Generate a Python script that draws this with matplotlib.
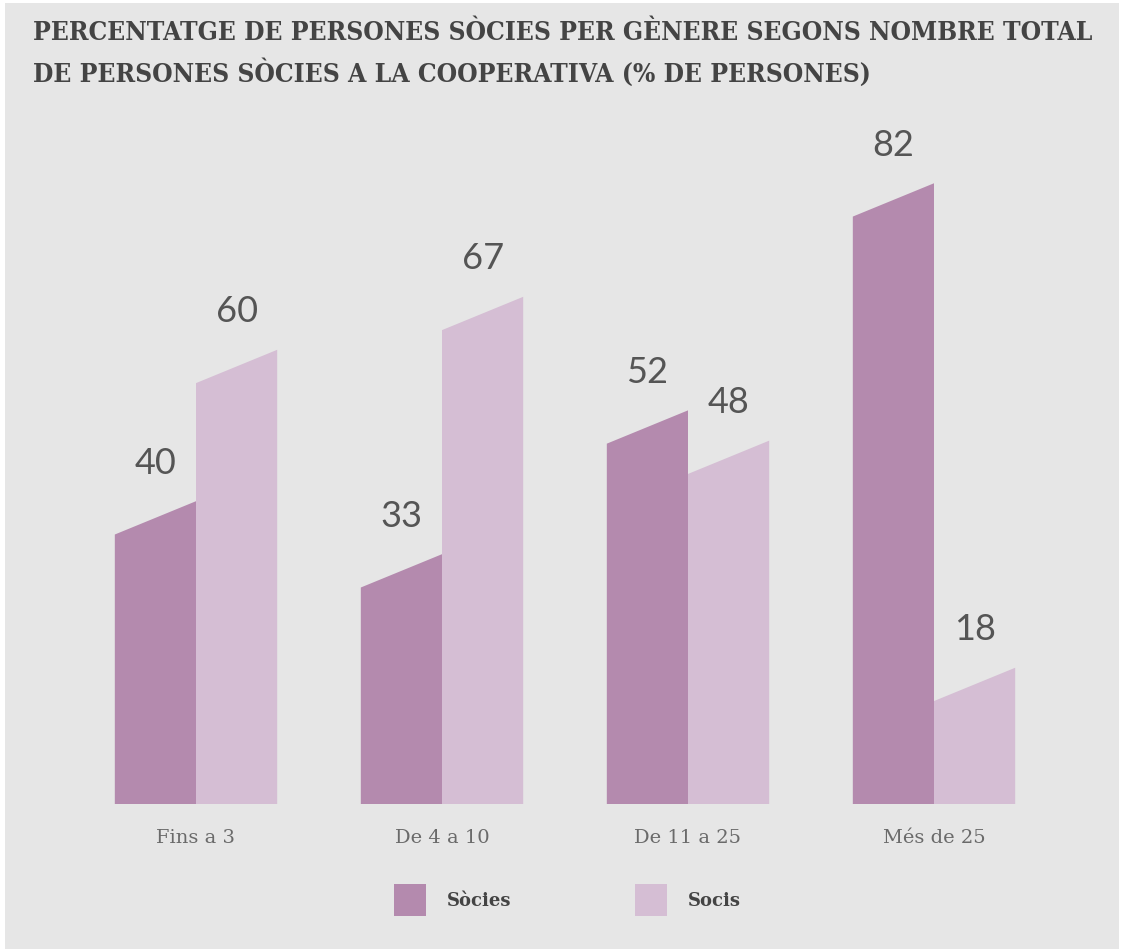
import matplotlib
matplotlib.use("Agg")
import matplotlib.pyplot as plt
from matplotlib.patches import Polygon, Rectangle

# data
categories = ["Fins a 3", "De 4 a 10", "De 11 a 25", "Més de 25"]
socies = [40, 33, 52, 82]
socis = [60, 67, 48, 18]
series_names = ["Sòcies", "Socis"]

TITLE_LINES = ["PERCENTATGE DE PERSONES SÒCIES PER GÈNERE SEGONS NOMBRE TOTAL",
               "DE PERSONES SÒCIES A LA COOPERATIVA (% DE PERSONES)"]

DARK = "#b48aae"
LIGHT = "#d5bed4"
BG = "#e6e6e6"
W, H = 1121, 949

fig = plt.figure(figsize=(W / 100, H / 100), dpi=100, facecolor="white")

# gray panel behind everything
fig.patches.append(Rectangle((5 / W, 0), (1119 - 5) / W, (H - 3) / H,
                             transform=fig.transFigure, facecolor=BG,
                             edgecolor="none", zorder=-5))

for k, line in enumerate(TITLE_LINES):
    fig.text(33 / W, 1 - (33 + 40 * k) / H, line, ha="left", va="center",
             fontsize=18.9, fontweight="bold", family="DejaVu Serif",
             fontstretch="condensed", color="#444444")

# axes: baseline at y=804px, 7.57 px per unit; group centres 246 px apart
px_unit = 7.57
ax_left, ax_right, ax_top, ax_base = 60, 1080, 120, 804
ax = fig.add_axes([ax_left / W, (H - ax_base) / H,
                   (ax_right - ax_left) / W, (ax_base - ax_top) / H])
ax.set_xlim((ax_left - 196) / 246, (ax_right - 196) / 246)
ax.set_ylim(0, (ax_base - ax_top) / px_unit)
ax.set_facecolor("none")
ax.set_zorder(2)
for s in ax.spines.values():
    s.set_visible(False)
ax.set_xticks([])
ax.set_yticks([])

bw = 0.33
slant = 4.4
for i, (a, b) in enumerate(zip(socies, socis)):
    for x0, v, col in [(i - bw, a, DARK), (i, b, LIGHT)]:
        ax.add_patch(Polygon([(x0, 0), (x0 + bw, 0), (x0 + bw, v),
                              (x0, v - slant)], closed=True,
                             facecolor=col, edgecolor="none"))
        ax.text(x0 + bw / 2, v + 5, str(v), ha="center", va="center",
                fontsize=26, family="Lato", fontweight="normal",
                color="#555555", clip_on=False)
    ax.text(i, -4.5, categories[i], ha="center", va="center", fontsize=14,
            family="DejaVu Serif", color="#6a6a6a", clip_on=False)

# legend
for x_sq, name, col in [(394, series_names[0], DARK), (635, series_names[1], LIGHT)]:
    fig.patches.append(Rectangle((x_sq / W, 1 - 916 / H), 32 / W, 32 / H,
                                 transform=fig.transFigure, facecolor=col,
                                 edgecolor="none"))
    fig.text((x_sq + 53) / W, 1 - 901 / H, name, ha="left", va="center",
             fontsize=13, fontweight="bold", family="DejaVu Serif",
             color="#444444")

fig.savefig("out.png", dpi=100, facecolor="white")
